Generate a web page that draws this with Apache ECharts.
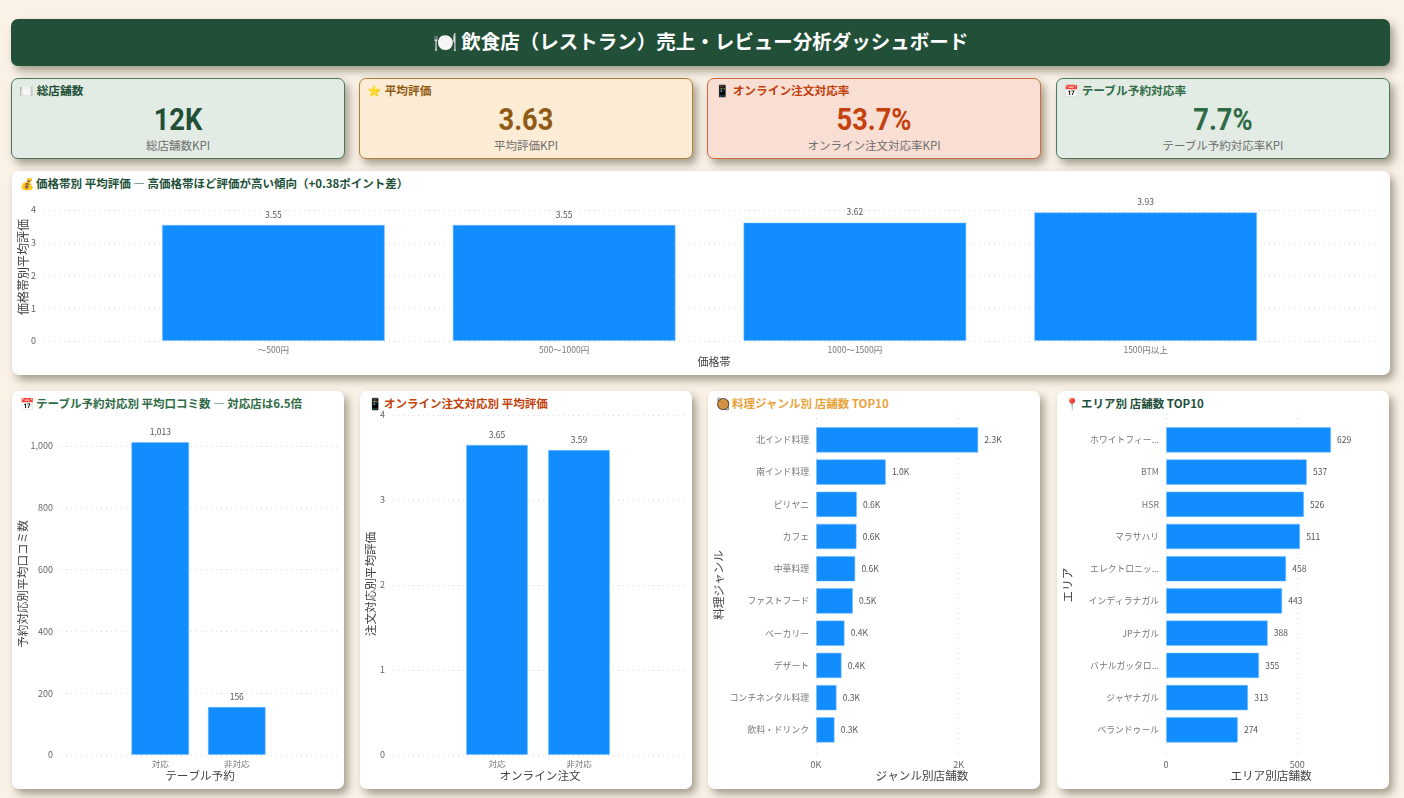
<!DOCTYPE html>
<html lang="ja"><head><meta charset="utf-8">
<script src="https://cdn.jsdelivr.net/npm/echarts@6/dist/echarts.min.js"></script>
<style>
html,body{margin:0;padding:0;width:1404px;height:798px;overflow:hidden;background:#FAF2E7;}
body{font-family:"Noto Sans CJK JP","Noto Sans",sans-serif;position:relative;}
.box{position:absolute;box-sizing:border-box;border-radius:7px;box-shadow:4px 5px 8px rgba(60,50,30,.45);}
#hdr{left:11px;top:19px;width:1379px;height:47px;padding-bottom:5px;background:#214F38;color:#fff;font-size:19.5px;font-weight:700;display:flex;align-items:center;justify-content:center;}
.kpi{top:78px;height:81px;border:1px solid;text-align:center;}
.kpi .t{position:absolute;left:7px;top:3px;font-size:11.7px;font-weight:700;line-height:16px;white-space:nowrap;}
.kpi .v{position:absolute;left:0;right:0;top:21px;font-family:Roboto,"Liberation Sans",sans-serif;font-size:31px;font-weight:700;line-height:40px;transform:scaleX(.88);}
.kpi .s{position:absolute;left:0;right:0;top:58px;font-size:11.5px;line-height:16px;color:#6f6f6f;}
.panel{background:#fff;}
.panel .t{position:absolute;left:7.5px;top:4px;font-size:11.5px;font-weight:700;line-height:16px;white-space:nowrap;}
#c{position:absolute;left:0;top:0;width:1404px;height:798px;}
</style></head><body>
<div class="box" id="hdr">🍽️ 飲食店（レストラン）売上・レビュー分析ダッシュボード</div>
<div class="box kpi" style="left:11px;width:334px;background:#E3ECE4;border-color:#47785C"><div class="t" style="color:#214F38">🍽️ 総店舗数</div><div class="v" style="color:#214F38">12K</div><div class="s">総店舗数KPI</div></div>
<div class="box kpi" style="left:359px;width:334px;background:#FDECD5;border-color:#B27F35"><div class="t" style="color:#8F5B14">⭐ 平均評価</div><div class="v" style="color:#8F5B14">3.63</div><div class="s">平均評価KPI</div></div>
<div class="box kpi" style="left:707px;width:334px;background:#F9DFD3;border-color:#CF6A3C"><div class="t" style="color:#C2410C">📱 オンライン注文対応率</div><div class="v" style="color:#C2410C">53.7%</div><div class="s">オンライン注文対応率KPI</div></div>
<div class="box kpi" style="left:1056px;width:334px;background:#E3ECE4;border-color:#47785C"><div class="t" style="color:#2F6B45">📅 テーブル予約対応率</div><div class="v" style="color:#2F6B45">7.7%</div><div class="s">テーブル予約対応率KPI</div></div>
<div class="box panel" style="left:12px;top:171px;width:1378px;height:204px"><div class="t" style="color:#214F38">💰 価格帯別 平均評価 — 高価格帯ほど評価が高い傾向（+0.38ポイント差）</div></div>
<div class="box panel" style="left:12px;top:391px;width:332px;height:398px"><div class="t" style="color:#2F6B45">📅 テーブル予約対応別 平均口コミ数 — 対応店は6.5倍</div></div>
<div class="box panel" style="left:360px;top:391px;width:332px;height:398px"><div class="t" style="color:#C2410C">📱 オンライン注文対応別 平均評価</div></div>
<div class="box panel" style="left:708px;top:391px;width:332px;height:398px"><div class="t" style="color:#E8A33D">🥘 料理ジャンル別 店舗数 TOP10</div></div>
<div class="box panel" style="left:1057px;top:391px;width:332px;height:398px"><div class="t" style="color:#214F38">📍 エリア別 店舗数 TOP10</div></div>
<div id="c"></div>
<script>
const priceCats = ['〜500円','500〜1000円','1000〜1500円','1500円以上'];
const priceVals = [3.55,3.55,3.62,3.93];
const tableCats = ['対応','非対応'];
const tableVals = [1013,156];
const onlineCats = ['対応','非対応'];
const onlineVals = [3.65,3.59];
const genreCats = ['北インド料理','南インド料理','ビリヤニ','カフェ','中華料理','ファストフード','ベーカリー','デザート','コンチネンタル料理','飲料・ドリンク'];
const genreVals = [2276,980,575,570,552,519,402,360,290,262];
const areaCats = ['ホワイトフィー...','BTM','HSR','マラサハリ','エレクトロニッ...','インディラナガル','JPナガル','バナルガッタロ...','ジャヤナガル','ベランドゥール'];
const areaVals = [629,537,526,511,458,443,388,355,313,274];

const FONT='"Noto Sans CJK JP","Noto Sans",sans-serif';
const BLUE='#118DFF';
const grid=[],xAxis=[],yAxis=[],series=[],graphic=[];
const split={show:true,showMaxLine:false,lineStyle:{color:'#DADADA',type:[1,4],width:1}};
const tickLab={color:'#666',fontSize:9,fontFamily:FONT};
const catLab={color:'#777',fontSize:8.5,fontFamily:FONT};
const axisText=(x,y,text,rot,size)=>graphic.push({type:'text',x,y,rotation:rot||0,silent:true,style:{text,align:'center',verticalAlign:'middle',fill:'#444',fontSize:size||11.6,fontFamily:FONT}});
const barStyle={color:BLUE,borderColor:'rgba(120,190,255,.55)',borderWidth:1};
const valLab=(fmt)=>({show:true,color:'#555',fontSize:8.5,fontFamily:FONT,formatter:fmt});

function addColumn(o){
  const g=grid.length;
  const split2=Object.assign({},split,{showMaxLine:o.maxLine!==false});
  grid.push({left:o.gl,width:o.gr-o.gl,top:o.top,height:o.bottom-o.top});
  xAxis.push({gridIndex:g,type:'category',show:false,data:o.cats});
  yAxis.push({gridIndex:g,type:'value',min:0,max:o.max,interval:o.interval,axisLine:{show:false},axisTick:{show:false},splitLine:split2,
    axisLabel:Object.assign({formatter:o.tickFmt,margin:8,showMaxLabel:o.maxLine!==false},tickLab)});
  grid.push({left:o.bl,width:o.br-o.bl,top:o.top,height:o.bottom-o.top});
  xAxis.push({gridIndex:g+1,type:'category',data:o.cats,axisLine:{show:false},axisTick:{show:false},axisLabel:Object.assign({margin:5,interval:0},catLab)});
  yAxis.push({gridIndex:g+1,type:'value',min:0,max:o.max,interval:o.interval,show:false,splitLine:{show:false}});
  series.push({type:'bar',xAxisIndex:g+1,yAxisIndex:g+1,data:o.vals,barWidth:o.barW,itemStyle:barStyle,
    label:Object.assign(valLab(o.labFmt),{position:'top',distance:6})});
}
function addHBar(o){
  const g=grid.length;
  grid.push({left:o.left,width:o.width,top:o.gTop,height:o.gBottom-o.gTop});
  xAxis.push({gridIndex:g,type:'value',min:0,max:o.max,interval:o.interval,axisLine:{show:false},axisTick:{show:false},splitLine:split,
    axisLabel:Object.assign({formatter:o.tickFmt,margin:5,showMaxLabel:false},tickLab)});
  yAxis.push({gridIndex:g,type:'category',show:false,data:o.cats,inverse:true});
  grid.push({left:o.left,width:o.width,top:o.bTop,height:o.bBottom-o.bTop});
  xAxis.push({gridIndex:g+1,type:'value',min:0,max:o.max,interval:o.interval,show:false,splitLine:{show:false}});
  yAxis.push({gridIndex:g+1,type:'category',data:o.cats,inverse:true,axisLine:{show:false},axisTick:{show:false},
    axisLabel:Object.assign({},catLab,{margin:7,interval:0,fontSize:8.8})});
  series.push({type:'bar',xAxisIndex:g+1,yAxisIndex:g+1,data:o.vals,barWidth:25.7,itemStyle:barStyle,
    label:Object.assign(valLab(o.labFmt),{position:'right',distance:6})});
}
const fixed2=p=>p.value.toFixed(2);
const comma=v=>Number(v).toLocaleString('en-US');

addColumn({cats:priceCats,vals:priceVals,gl:44,gr:1381,bl:128,br:1291,top:210,bottom:341,max:4,interval:1,barW:223,labFmt:fixed2});
addColumn({cats:tableCats,vals:tableVals,gl:61,gr:337,bl:122,br:275,top:436,bottom:755,max:1032.4,interval:200,barW:58,maxLine:false,tickFmt:comma,labFmt:p=>comma(p.value)});
addColumn({cats:onlineCats,vals:onlineVals,gl:393,gr:684,bl:456,br:620,top:415,bottom:755,max:4,interval:1,barW:62,labFmt:fixed2});
const kFmt=v=>(v/1000).toFixed(0)+'K';
addHBar({cats:genreCats,vals:genreVals,left:816,width:214,max:3000,interval:2000,gTop:413,gBottom:755,bTop:423.7,bBottom:746,tickFmt:kFmt,labFmt:p=>(p.value/1000).toFixed(1)+'K'});
addHBar({cats:areaCats,vals:areaVals,left:1166,width:210,max:800,interval:500,gTop:413,gBottom:755,bTop:423.7,bBottom:746,labFmt:p=>String(p.value)});

const UP=Math.PI/2;
axisText(714,362,'価格帯',0,11);
axisText(23,267,'価格帯別平均評価',UP,12);
axisText(200,776,'テーブル予約');
axisText(23,584,'予約対応別平均口コミ数',UP);
axisText(540,776,'オンライン注文');
axisText(371,584,'注文対応別平均評価',UP);
axisText(922,776,'ジャンル別店舗数');
axisText(719,585,'料理ジャンル',UP);
axisText(1271,776,'エリア別店舗数');
axisText(1068,585,'エリア',UP);

const chart=echarts.init(document.getElementById('c'));
chart.setOption({animation:false,backgroundColor:'transparent',tooltip:{show:false},grid,xAxis,yAxis,series,graphic});
</script>
</body></html>
